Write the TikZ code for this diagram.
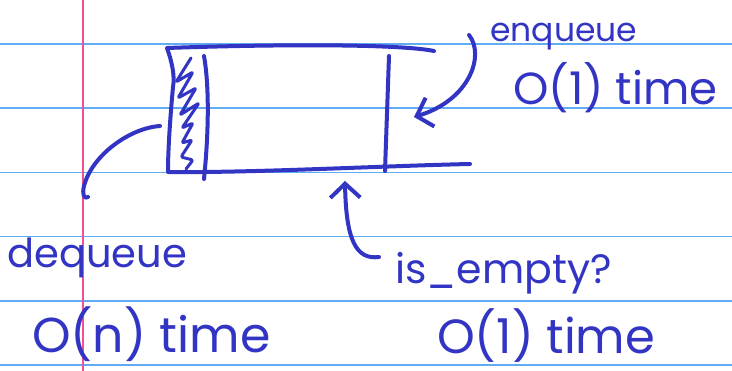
\documentclass[tikz,border=0pt]{standalone}
\usepackage{fontspec}
\setmainfont{Poppins}
\usetikzlibrary{arrows.meta}
\definecolor{ink}{RGB}{50,52,195}
\definecolor{rule}{RGB}{95,172,245}
\definecolor{margin}{RGB}{240,80,150}
\tikzset{
  ruleline/.style={rule, line width=1.6pt},
  marginline/.style={margin, line width=1.6pt},
  pen/.style={ink, line width=4pt, line cap=round, line join=round},
  arrowpen/.style={pen, -{Straight Barb[length=14pt, width=30pt, line width=4pt]}},
  note/.style={ink, inner sep=0pt, anchor=base west},
}
\begin{document}
\begin{tikzpicture}[x=1pt, y=-1pt]
  \useasboundingbox[fill=white] (0,0) rectangle (732,371);

  % notebook paper
  \foreach \y in {44,108.2,172.4,236.6,300.8,365}
    \draw[ruleline] (0,\y) -- (732,\y);
  \draw[marginline] (83,0) -- (83,371);

  % the queue: outer outline
  \draw[pen] (434,51) .. controls (400,44) and (280,44) .. (167,48)
             .. controls (172,62) and (175,76) .. (173,87)
             .. controls (170,120) and (168,150) .. (168,172)
             .. controls (250,173) and (380,166) .. (470,164);
  % front and back walls
  \draw[pen] (204,56) .. controls (210,90) and (208,140) .. (204,179);
  \draw[pen] (389,56) -- (385,171);
  % hatched front slot
  \draw[pen, line width=3pt, rounded corners=2pt]
    (191,58) -- (176,82) -- (193,72) -- (178,98) -- (196,88) -- (180,115)
    -- (199,103) -- (182,128) -- (193,123) -- (182,143) -- (192,140)
    -- (181,157) -- (193,160) -- (186,169);

  % labels
  \node[note, font=\fontsize{33}{33}\selectfont] (enq) at (490,42) {enqueue};
  \node[note, font=\fontsize{45}{45}\selectfont] (enqcost) at (513,105) {O(1) time};
  \node[note, font=\fontsize{40}{40}\selectfont] (deq) at (7,268) {dequeue};
  \node[note, font=\fontsize{49}{49}\selectfont] (deqcost) at (32,353) {O(n) time};
  \node[note, font=\fontsize{41}{41}\selectfont] (empty) at (395,284) {is\_empty?};
  \node[note, font=\fontsize{48}{48}\selectfont] (emptycost) at (437,354) {O(1) time};

  % arrow end points
  \coordinate (enqstart) at (469,35);
  \coordinate (enqtip) at (414,117);
  \coordinate (deqstart) at (160,126);
  \coordinate (deqend) at (88,197);
  \coordinate (emptystart) at (379,257);
  \coordinate (emptytip) at (345,181);

  % arrows
  \draw[arrowpen] (enqstart) .. controls (485,55) and (470,100) .. (enqtip);
  \draw[pen] (deqstart) .. controls (130,128) and (92,155) .. (84,186)
             .. controls (82,194) and (84,200) .. (deqend);
  \draw[arrowpen] (emptystart) .. controls (356,260) and (346,240) .. (emptytip);
\end{tikzpicture}
\end{document}
